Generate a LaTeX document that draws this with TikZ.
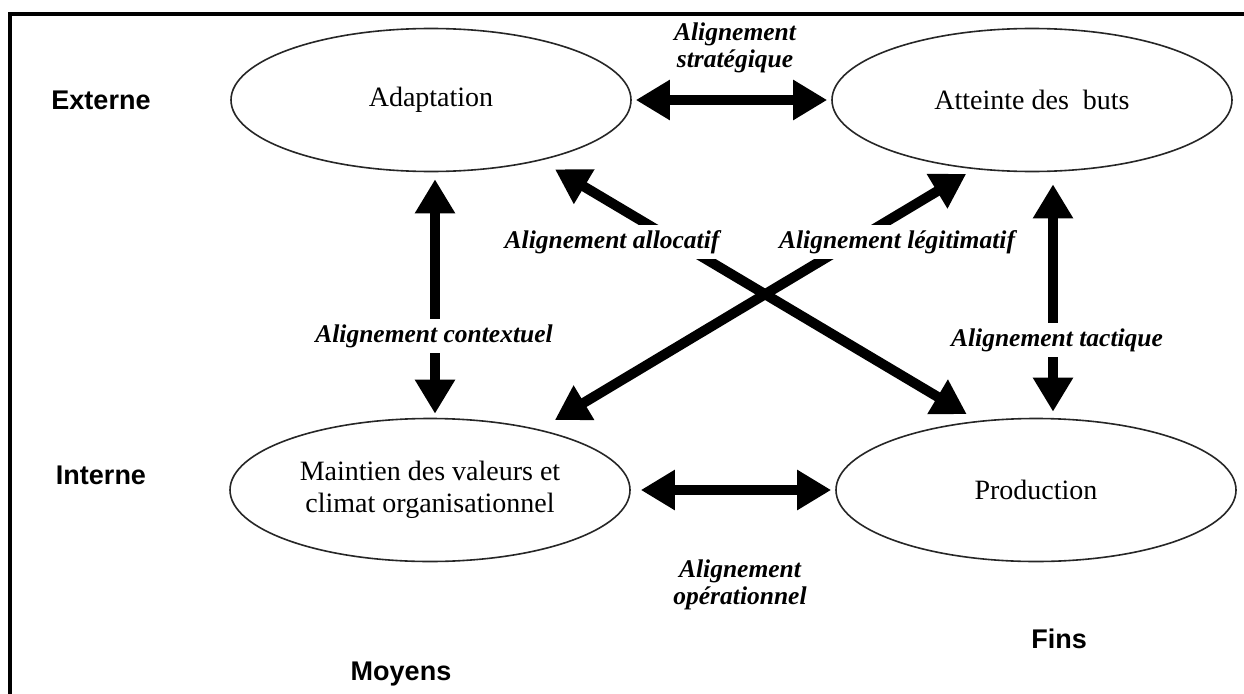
\documentclass[tikz,border=0pt]{standalone}
\usepackage{fontspec}
\setmainfont{Liberation Serif}
\setsansfont{Liberation Sans}
\usetikzlibrary{arrows.meta,shapes.geometric}
\begin{document}
\begin{tikzpicture}[x=1pt,y=-1pt,
  ell/.style={draw=black!85,line width=1.6pt,ellipse,minimum width=400pt,minimum height=143pt,inner sep=0pt,font=\fontsize{28}{32}\selectfont,align=center},
  dconn/.style={line width=10pt,{Triangle[width=38pt,length=34pt]}-{Triangle[width=38pt,length=34pt]}},
  lab/.style={font=\fontsize{25.5}{27}\selectfont\bfseries\itshape,align=center},
  labw/.style={lab,fill=white,inner xsep=3pt,inner ysep=5pt},
  side/.style={font=\fontsize{27}{30}\selectfont\sffamily\bfseries}]
\useasboundingbox (0,0) rectangle (1244,693);
\fill[white] (0,0) rectangle (1244,693);
\draw[line width=3.5pt] (1250,14) -- (10,14) -- (10,700);

% ellipses
\node[ell] (adapt) at (431,100) {Adaptation};
\node[ell] (att) at (1032,100) {Atteinte des\ \ buts};
\node[ell] (maint) at (430,490) {Maintien des valeurs et\\climat organisationnel};
\node[ell] (prod) at (1036,490) {Production};

% side labels
\node[side] (ext) at (101,100) {Externe};
\node[side] (int) at (101,475) {Interne};
\node[side] (moy) at (401,674) {Moyens};
\node[side] (fins) at (1059,639) {Fins};

% connectors
\draw[dconn,shorten <=4pt,shorten >=4pt] (adapt) -- (att);
\draw[dconn,shorten <=10pt,shorten >=4pt] (maint) -- (prod);
\draw[dconn] ([xshift=4pt,yshift=-7pt]adapt.south) -- ([xshift=5pt,yshift=4pt]maint.north);
\draw[dconn] ([xshift=21pt,yshift=-12pt]att.south) -- ([xshift=17pt,yshift=6pt]prod.north);
\draw[dconn,shorten <=17pt,shorten >=13pt] (adapt.-29) -- (prod.130);
\draw[dconn,shorten <=18pt,shorten >=9pt] (maint.29) -- (att.-130);

% connector labels
\node[lab] (lstrat) at (735,48) {Alignement\\stratégique};
\node[lab] (lop) at (740,585) {Alignement\\opérationnel};
\node[labw] (lcont) at (434,336) {Alignement contextuel};
\node[labw] (ltact) at (1057,340) {Alignement tactique};
\node[labw] (lalloc) at (612,242) {Alignement allocatif};
\node[labw] (llegit) at (897,242) {Alignement légitimatif};
\end{tikzpicture}
\end{document}
